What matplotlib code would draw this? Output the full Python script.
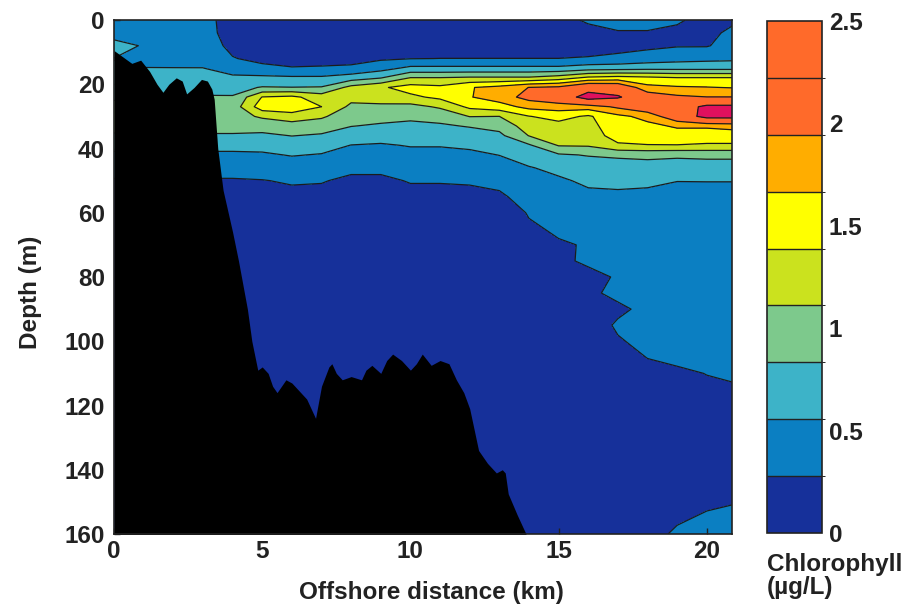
import numpy as np
import matplotlib
matplotlib.use("Agg")
import matplotlib.pyplot as plt
from matplotlib.colors import ListedColormap, BoundaryNorm
import matplotlib.cm as cm

plt.rcParams['font.family'] = ['Liberation Sans', 'DejaVu Sans']
plt.rcParams['font.weight'] = 'bold'
plt.rcParams['font.size'] = 17.5

# grilla de la sección (distancia en km, profundidad en m)
distance_km = list(range(0, 22))
depth_m = [0, 4, 8, 12, 15, 18, 21, 24, 27, 30, 33, 36, 39, 42, 46, 50,
           55, 60, 70, 75, 80, 85, 90, 95, 100, 105, 110, 120, 140, 160]

# clorofila (ug/L): una fila por columna de distancia, valores por profundidad
chl_by_distance = [
    [0.40, 0.36, 0.72, 0.55, 0.58, 0.64, 0.72, 0.80, 0.90, 0.95, 0.92, 0.80, 0.65, 0.50, 0.36, 0.26, 0.20, 0.16,
     0.14, 0.14, 0.14, 0.14, 0.14, 0.14, 0.14, 0.14, 0.14, 0.14, 0.14, 0.14],
    [0.40, 0.38, 0.52, 0.50, 0.56, 0.62, 0.70, 0.80, 0.90, 0.95, 0.92, 0.80, 0.65, 0.50, 0.36, 0.26, 0.20, 0.16,
     0.14, 0.14, 0.14, 0.14, 0.14, 0.14, 0.14, 0.14, 0.14, 0.14, 0.14, 0.14],
    [0.40, 0.40, 0.42, 0.48, 0.56, 0.64, 0.72, 0.80, 0.90, 0.95, 0.92, 0.80, 0.65, 0.50, 0.36, 0.26, 0.20, 0.16,
     0.14, 0.14, 0.14, 0.14, 0.14, 0.14, 0.14, 0.14, 0.14, 0.14, 0.14, 0.14],
    [0.38, 0.38, 0.40, 0.46, 0.56, 0.66, 0.76, 0.85, 0.95, 1.00, 0.95, 0.80, 0.65, 0.50, 0.36, 0.26, 0.20, 0.16,
     0.14, 0.14, 0.14, 0.14, 0.14, 0.14, 0.14, 0.14, 0.14, 0.14, 0.14, 0.14],
    [0.15, 0.17, 0.22, 0.29, 0.45, 0.60, 0.75, 0.85, 0.95, 1.00, 0.95, 0.80, 0.65, 0.50, 0.36, 0.26, 0.20, 0.16,
     0.14, 0.14, 0.13, 0.13, 0.13, 0.13, 0.13, 0.13, 0.13, 0.13, 0.13, 0.13],
    [0.12, 0.13, 0.16, 0.22, 0.33, 0.62, 0.85, 1.40, 1.55, 1.15, 0.95, 0.78, 0.64, 0.52, 0.38, 0.27, 0.20, 0.16,
     0.14, 0.14, 0.13, 0.13, 0.13, 0.13, 0.13, 0.13, 0.13, 0.13, 0.13, 0.13],
    [0.10, 0.11, 0.14, 0.20, 0.29, 0.60, 0.84, 1.45, 1.60, 1.25, 1.00, 0.84, 0.68, 0.57, 0.42, 0.30, 0.22, 0.17,
     0.14, 0.14, 0.13, 0.13, 0.13, 0.13, 0.13, 0.13, 0.13, 0.13, 0.13, 0.13],
    [0.10, 0.11, 0.14, 0.20, 0.30, 0.60, 0.85, 1.25, 1.39, 1.15, 0.97, 0.80, 0.66, 0.54, 0.40, 0.29, 0.22, 0.17,
     0.14, 0.14, 0.13, 0.13, 0.13, 0.13, 0.13, 0.13, 0.13, 0.13, 0.13, 0.13],
    [0.10, 0.11, 0.14, 0.20, 0.32, 0.70, 1.20, 1.20, 1.05, 0.95, 0.84, 0.70, 0.55, 0.45, 0.32, 0.24, 0.19, 0.16,
     0.14, 0.14, 0.13, 0.13, 0.13, 0.13, 0.13, 0.13, 0.13, 0.13, 0.13, 0.13],
    [0.10, 0.11, 0.14, 0.24, 0.45, 0.82, 1.35, 1.25, 1.05, 0.92, 0.80, 0.66, 0.53, 0.44, 0.32, 0.24, 0.19, 0.16,
     0.14, 0.14, 0.13, 0.13, 0.13, 0.13, 0.13, 0.13, 0.13, 0.13, 0.13, 0.13],
    [0.10, 0.11, 0.14, 0.27, 0.62, 1.12, 1.50, 1.33, 1.02, 0.88, 0.78, 0.66, 0.57, 0.48, 0.38, 0.29, 0.22, 0.17,
     0.14, 0.14, 0.13, 0.13, 0.13, 0.13, 0.13, 0.13, 0.13, 0.13, 0.13, 0.13],
    [0.10, 0.11, 0.14, 0.28, 0.62, 1.12, 1.45, 1.45, 1.15, 0.92, 0.80, 0.67, 0.57, 0.48, 0.38, 0.29, 0.22, 0.17,
     0.14, 0.14, 0.13, 0.13, 0.13, 0.13, 0.13, 0.13, 0.13, 0.13, 0.13, 0.13],
    [0.10, 0.11, 0.14, 0.28, 0.62, 1.15, 1.65, 1.65, 1.45, 1.12, 0.85, 0.72, 0.60, 0.50, 0.39, 0.30, 0.22, 0.17,
     0.14, 0.14, 0.13, 0.13, 0.13, 0.13, 0.13, 0.13, 0.13, 0.13, 0.13, 0.13],
    [0.10, 0.11, 0.14, 0.28, 0.62, 1.15, 1.75, 1.80, 1.55, 1.11, 0.92, 0.77, 0.66, 0.56, 0.44, 0.34, 0.24, 0.18,
     0.14, 0.14, 0.13, 0.13, 0.13, 0.13, 0.13, 0.13, 0.13, 0.13, 0.13, 0.13],
    [0.10, 0.11, 0.13, 0.28, 0.62, 1.15, 1.95, 2.05, 1.75, 1.38, 1.25, 1.12, 0.80, 0.68, 0.54, 0.45, 0.37, 0.29,
     0.22, 0.20, 0.18, 0.17, 0.16, 0.155, 0.15, 0.145, 0.14, 0.14, 0.14, 0.14],
    [0.18, 0.13, 0.13, 0.28, 0.62, 1.25, 2.00, 2.20, 1.80, 1.48, 1.30, 1.20, 1.13, 0.80, 0.62, 0.52, 0.42, 0.35,
     0.26, 0.25, 0.20, 0.19, 0.18, 0.175, 0.17, 0.165, 0.16, 0.15, 0.15, 0.15],
    [0.32, 0.18, 0.15, 0.30, 0.70, 1.45, 2.30, 2.70, 1.80, 1.35, 1.30, 1.25, 1.14, 0.85, 0.68, 0.60, 0.50, 0.40,
     0.29, 0.30, 0.24, 0.26, 0.22, 0.23, 0.22, 0.20, 0.18, 0.16, 0.16, 0.17],
    [0.36, 0.26, 0.20, 0.33, 0.72, 1.50, 2.25, 2.55, 2.00, 1.60, 1.55, 1.50, 1.35, 0.88, 0.70, 0.60, 0.52, 0.44,
     0.33, 0.32, 0.29, 0.30, 0.26, 0.29, 0.27, 0.24, 0.22, 0.18, 0.17, 0.18],
    [0.36, 0.26, 0.22, 0.40, 0.75, 1.45, 1.75, 2.15, 2.20, 1.75, 1.60, 1.50, 1.38, 0.90, 0.72, 0.60, 0.50, 0.42,
     0.34, 0.33, 0.31, 0.31, 0.30, 0.30, 0.30, 0.28, 0.25, 0.20, 0.20, 0.25],
    [0.30, 0.24, 0.26, 0.45, 0.75, 1.40, 1.70, 2.00, 2.25, 2.20, 1.70, 1.55, 1.38, 0.88, 0.70, 0.56, 0.48, 0.42,
     0.36, 0.35, 0.34, 0.335, 0.33, 0.32, 0.31, 0.30, 0.26, 0.22, 0.20, 0.29],
    [0.22, 0.20, 0.26, 0.48, 0.75, 1.40, 1.68, 1.95, 2.60, 2.65, 1.70, 1.55, 1.35, 0.90, 0.70, 0.56, 0.50, 0.45,
     0.38, 0.37, 0.36, 0.35, 0.34, 0.33, 0.32, 0.31, 0.28, 0.24, 0.22, 0.31],
    [0.25, 0.36, 0.40, 0.50, 0.75, 1.40, 1.65, 1.95, 2.60, 2.65, 1.75, 1.55, 1.35, 0.90, 0.70, 0.56, 0.50, 0.46,
     0.40, 0.39, 0.38, 0.37, 0.36, 0.345, 0.33, 0.32, 0.29, 0.25, 0.23, 0.32],
]

# fondo marino (batimetría)
bath_km = [0.0, 0.3, 0.6, 0.9, 1.2, 1.45, 1.65, 1.85, 2.1, 2.3, 2.45, 2.7, 2.95, 3.15, 3.3, 3.38,
           3.5, 3.68, 4.0, 4.2, 4.5, 4.65, 4.85, 5.0, 5.2, 5.35, 5.5, 5.8, 6.0, 6.2, 6.5, 6.8,
           7.0, 7.25, 7.35, 7.5, 7.7, 8.0, 8.35, 8.5, 8.7, 9.0, 9.2, 9.4, 9.7, 10.0, 10.2, 10.4,
           10.7, 11.0, 11.3, 11.55, 11.8, 12.0, 12.3, 12.6, 12.9, 13.1, 13.2, 13.3, 13.6, 13.9]
bath_depth = [9.5, 11.5, 13.5, 12.5, 16, 20, 22.5, 20, 18, 19, 23, 21, 18.5, 19, 21.5, 24.7,
              40, 53, 66, 75, 90, 100, 109, 108, 110, 114, 116, 112, 113, 115, 118, 124,
              114, 108, 107, 110, 112, 111, 112, 109, 107.5, 110, 106, 104, 106, 109, 107, 104,
              107.5, 106, 107, 112, 116, 121, 134, 138, 141, 140, 141, 147.5, 154, 160]

chl_ticks = [0, 0.5, 1, 1.5, 2, 2.5]
chl_tick_labels = ['0', '0.5', '1', '1.5', '2', '2.5']

# 9 clases iguales entre 0 y 2.5
levels = np.linspace(0, 2.5, 10)
colors = ['#16309a', '#0b7fc2', '#3db3c8', '#7dc98c', '#cbe21e',
          '#ffff00', '#ffad00', '#ff6a2a', '#ff6a2a']
cmap = ListedColormap(colors)
cmap.set_over('#e0105e')
norm = BoundaryNorm(levels, cmap.N)

X, Z = np.meshgrid(distance_km, depth_m)
C = np.array(chl_by_distance).T

fig = plt.figure(figsize=(9.21, 6.11), dpi=100)
ax = fig.add_axes([114 / 921, 1 - 534 / 611, 618 / 921, 514 / 611])

ax.contourf(X, Z, C, levels=levels, cmap=cmap, norm=norm, extend='max', zorder=1)
line_levels = [lv for lv in levels[1:] if abs(lv - levels[8]) > 1e-6]
ax.contour(X, Z, C, levels=line_levels, colors='#1c1c1c', linewidths=0.9, zorder=2)
ax.fill_between(bath_km, bath_depth, 170, color='black', lw=0, zorder=3)

ax.set_xlim(0, 20.85)
ax.set_ylim(160, 0)
ax.set_xticks([0, 5, 10, 15, 20])
ax.set_yticks(range(0, 161, 20))
ax.tick_params(direction='in', length=4, width=1, colors='#222222', labelcolor='#222222')
ax.tick_params(axis='y', pad=6.5)
ax.tick_params(axis='x', pad=4.5)
for sp in ax.spines.values():
    sp.set_linewidth(1.2)
    sp.set_color('#222222')
    sp.set_zorder(5)

fig.text(431 / 921, 1 - 593 / 611, 'Offshore distance (km)', ha='center', va='center', color='#222222')
fig.text(30 / 921, 1 - 292 / 611, 'Depth (m)', ha='center', va='center', rotation=90, color='#222222')

# barra de colores
cax = fig.add_axes([767 / 921, 1 - 533 / 611, 55 / 921, 512 / 611])
sm = cm.ScalarMappable(norm=BoundaryNorm(levels, cmap.N), cmap=ListedColormap(colors))
cb = fig.colorbar(sm, cax=cax, ticks=chl_ticks, drawedges=True)
cb.ax.set_yticklabels(chl_tick_labels)
cb.ax.tick_params(length=0, pad=5, colors='#222222')
cb.outline.set_linewidth(1.2)
cb.outline.set_edgecolor('#222222')
cb.dividers.set_color('#222222')
cb.dividers.set_linewidth(1.0)
fig.text(767 / 921, 1 - 553 / 611, 'Chlorophyll\n(\u00b5g/L)', ha='left', va='top',
         linespacing=1.0, color='#222222')

fig.savefig('out.png', dpi=100)
